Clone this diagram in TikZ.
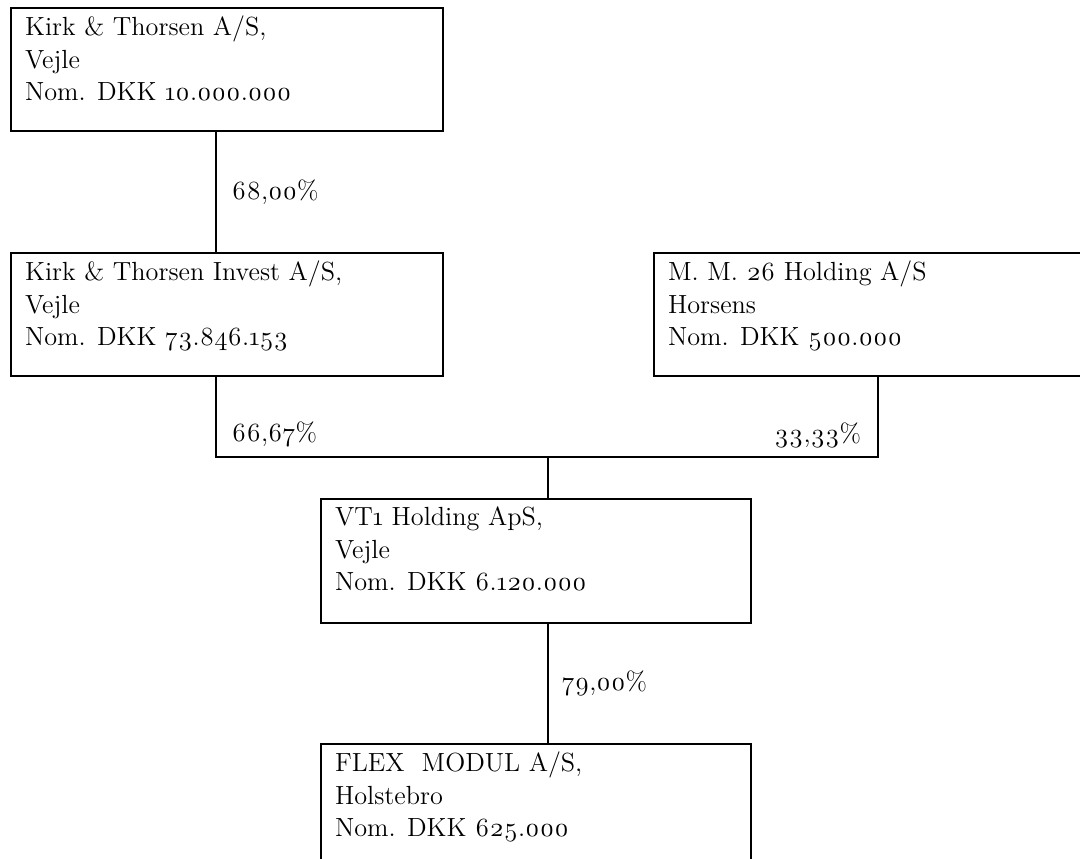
\documentclass[tikz,border=0pt]{standalone}
\usepackage{fontspec}
\setmainfont{Latin Modern Roman}[Numbers=OldStyle]
\usepackage{tikz}
\usetikzlibrary{positioning,calc}

\begin{document}
\begin{tikzpicture}[x=0.4268pt,y=0.4268pt,
    boks/.style={draw,line width=0.85pt,inner sep=0pt,anchor=north west},
    navn/.style={inner sep=0pt,align=left,font=\fontsize{11.2}{13.9}\selectfont},
    pct/.style={inner sep=0pt,font=\fontsize{11.2}{13.9}\selectfont},
    line width=0.85pt]
        \clip (0,0) rectangle (1080,-859);
        % selskaberne
        \node[boks,minimum width=184.4pt,minimum height=52.5pt]
          (kt) at (10,-7) {};
        \node[boks,minimum width=184.4pt,minimum height=52.5pt]
          (kti) at (10,-252) {};
        \node[boks,minimum width=183.5pt,minimum height=52.5pt]
          (mm) at (653,-252) {};
        \node[boks,minimum width=183.5pt,minimum height=52.9pt]
          (vt) at (320,-498) {};
        \node[boks,minimum width=183.5pt,minimum height=55.5pt]
          (flex) at (320,-743) {};
        \node[navn,below right=3.4pt and 6pt of kt.north west] (ktNavn)
          {Kirk \& Thorsen A/S,\\Vejle\\Nom. DKK 10.000.000};
        \node[navn,below right=3.4pt and 6pt of kti.north west] (ktiNavn)
          {Kirk \& Thorsen Invest A/S,\\Vejle\\Nom. DKK 73.846.153};
        \node[navn,below right=3.4pt and 6pt of mm.north west] (mmNavn)
          {M. M. 26 Holding A/S\\Horsens\\Nom. DKK 500.000};
        \node[navn,below right=3.4pt and 6pt of vt.north west] (vtNavn)
          {VT1 Holding ApS,\\Vejle\\Nom. DKK 6.120.000};
        \node[navn,below right=3.4pt and 6pt of flex.north west] (flexNavn)
          {FLEX\ \ MODUL A/S,\\Holstebro\\Nom. DKK 625.000};
        % ejerandele
        \coordinate (k1) at ($(kt.south west)+(206,0)$);
        \coordinate (k2) at ($(kti.south west)+(206,0)$);
        \coordinate (m2) at ($(mm.south west)+(225,0)$);
        \coordinate (v1) at ($(vt.north west)+(228,0)$);
        \coordinate (v2) at ($(vt.south west)+(228,0)$);
        \coordinate (bus) at (0,-457);
        \draw (k1) -- (k1 |- kti.north) node[pct,midway,right=6.4pt]{68,00\%};
        \draw (k2) -- (k2 |- bus)
          node[pct,anchor=base west,xshift=6.4pt,yshift=6.4pt]{66,67\%}
          -- (m2 |- bus)
          node[pct,anchor=base east,xshift=-6.8pt,yshift=6pt]{33,33\%}
          -- (m2);
        \draw (v1 |- bus) -- (v1);
        \draw (v2) -- (v2 |- flex.north) node[pct,midway,right=5.5pt]{79,00\%};
      \end{tikzpicture}
\end{document}
